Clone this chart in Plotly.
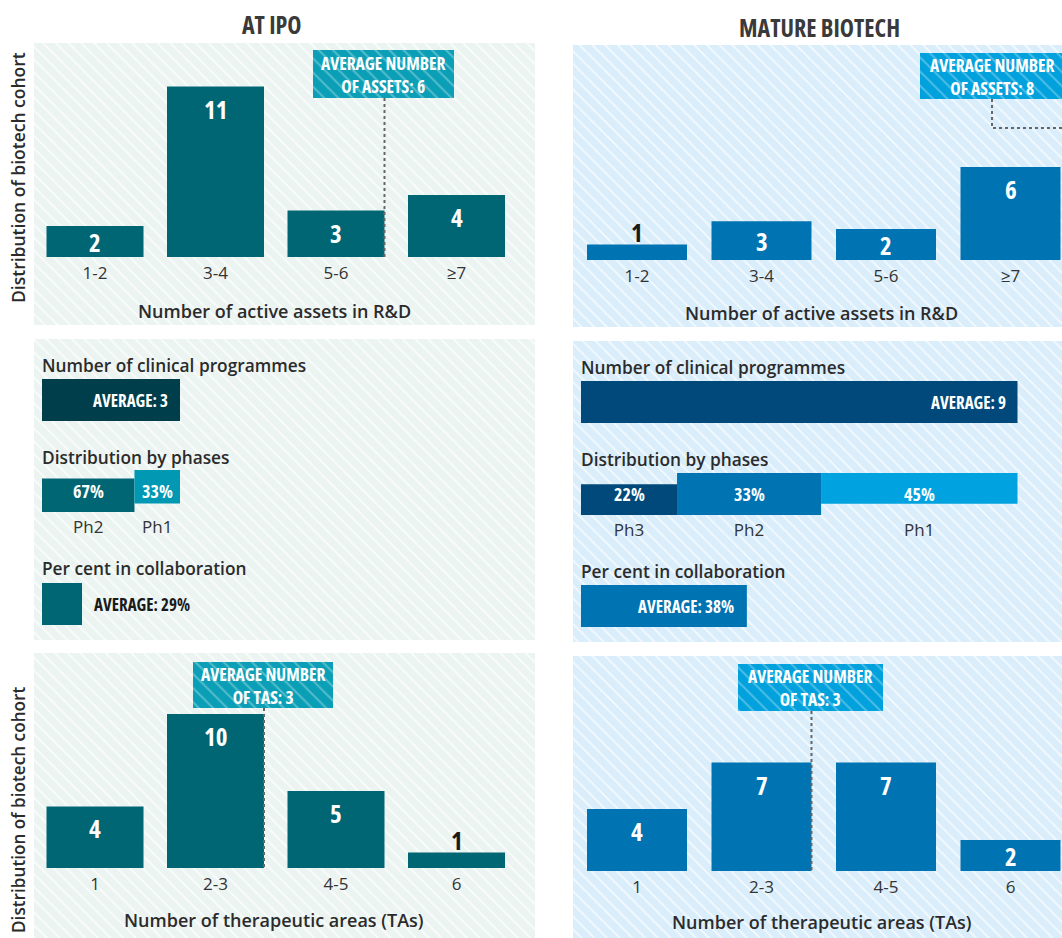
import plotly.graph_objects as go

W, H = 1062, 938

# ---------------- data ----------------
asset_cats = ["1-2", "3-4", "5-6", "≥7"]
assets_ipo = [2, 11, 3, 4]
assets_ipo_labels = ["2", "11", "3", "4"]
assets_mature = [1, 2.5, 2, 6]
assets_mature_labels = ["1", "3", "2", "6"]

ta_cats = ["1", "2-3", "4-5", "6"]
ta_ipo = [4, 10, 5, 1]
ta_ipo_labels = ["4", "10", "5", "1"]
ta_mature = [4, 7, 7, 2]
ta_mature_labels = ["4", "7", "7", "2"]

avg_assets_ipo = 6
avg_assets_mature = 8
avg_tas_ipo = 3
avg_tas_mature = 3

programmes_ipo = 3
programmes_mature = 9
phases_ipo = ["Ph2", "Ph1"]
phase_pct_ipo = [67, 33]
phases_mature = ["Ph3", "Ph2", "Ph1"]
phase_pct_mature = [22, 33, 45]
collab_ipo = 29
collab_mature = 38

# ---------------- style ----------------
NARROW = "Open Sans"
BODY = "Open Sans, Noto Sans, sans-serif"
TXT = "#2b2b2b"

L_BG, R_BG = "#ecf4f2", "#d9edfb"
L_BAR, L_DARK, L_LIGHT, L_CALL = "#006674", "#003e4b", "#0098b3", "#0a9fb6"
R_BAR, R_DARK, R_LIGHT, R_CALL = "#0073b2", "#00497a", "#00a3df", "#00a1dc"

fig = go.Figure()
layout = dict(
    width=W, height=H, margin=dict(l=0, r=0, t=0, b=0),
    paper_bgcolor="white", plot_bgcolor="rgba(0,0,0,0)",
    showlegend=False, annotations=[], shapes=[],
)

def fx(p):
    return p / W

def fy(p):
    return 1 - p / H

# base pixel axis (x, y)
layout["xaxis"] = dict(domain=[0, 1], range=[0, W], visible=False, fixedrange=True)
layout["yaxis"] = dict(domain=[0, 1], range=[H, 0], visible=False, fixedrange=True)

def rect(x0, y0, x1, y1, color, fg="white", fgop=0.7, size=9, sol=0.2):
    fig.add_trace(go.Scatter(
        x=[x0, x1, x1, x0, x0], y=[y0, y0, y1, y1, y0], mode="lines",
        line=dict(width=0), fill="toself", fillcolor=color,
        fillpattern=dict(shape="\\", bgcolor=color, fgcolor=fg, fgopacity=fgop,
                         size=size, solidity=sol),
        hoverinfo="skip", xaxis="x", yaxis="y"))

# panel backgrounds
rect(34, 43, 535, 325, L_BG)
rect(573, 45, W, 327, R_BG)
rect(34, 339, 535, 640, L_BG)
rect(573, 341, W, 642, R_BG)
rect(34, 653, 535, H, L_BG)
rect(573, 656, W, H, R_BG)

# callout boxes
rect(313, 50, 454, 98, L_CALL, fgop=0.3, size=10, sol=0.2)
rect(920, 53, W + 5, 99, R_CALL, fgop=0.3, size=10, sol=0.2)
rect(193, 662, 333, 708, L_CALL, fgop=0.3, size=10, sol=0.2)
rect(738, 664, 883, 711, R_CALL, fgop=0.3, size=10, sol=0.2)

def ann(x, y, text, size=16, color=TXT, family=BODY, weight=None, xanchor="center",
        xref="x", yref="y", angle=0, xshift=0, yshift=0):
    f = dict(family=family, size=size, color=color)
    if weight:
        f["weight"] = weight
    layout["annotations"].append(dict(
        x=x, y=y, xref=xref, yref=yref, text=text, showarrow=False, font=f,
        xanchor=xanchor, yanchor="middle", textangle=angle, xshift=xshift, yshift=yshift))

def cond(text):
    return f'<span style="font-stretch:75%">{text}</span>'

def bold(x, y, text, size=17, color="white", **kw):
    ann(x, y, cond(text), size=size, color=color, family=NARROW, weight=700, **kw)

# ---------------- vertical bar panels ----------------
def bar_panel(n, cats, vals, labels, color, cx0, step, xend, base_px, top_px, ppu, bw):
    xa, ya = f"x{n}", f"y{n}"
    x_lo = -0.5
    dom0 = cx0 - step / 2
    x_hi = x_lo + (xend - dom0) / step
    layout[f"xaxis{n}"] = dict(
        domain=[fx(dom0), fx(xend)], range=[x_lo, x_hi], anchor=ya,
        tickvals=list(range(len(cats))), ticktext=cats, ticks="", showgrid=False,
        zeroline=False, showline=False, ticklabelstandoff=4,
        tickfont=dict(family=BODY, size=17, color="#333"), fixedrange=True)
    layout[f"yaxis{n}"] = dict(
        domain=[fy(base_px), fy(top_px)], range=[0, (base_px - top_px) / ppu],
        anchor=xa, visible=False, fixedrange=True)
    fig.add_trace(go.Bar(x=list(range(len(cats))), y=vals, width=bw,
                         marker=dict(color=color, line=dict(width=0)),
                         xaxis=xa, yaxis=ya, hoverinfo="skip"))
    for i, (v, t) in enumerate(zip(vals, labels)):
        hpx = v * ppu
        if hpx < 20:
            bold(i, v, t, size=25, color="#1a1a1a", xref=xa, yref=ya, yshift=13)
        else:
            bold(i, v, t, size=25, xref=xa, yref=ya, yshift=-min(22, hpx / 2))
    return xa, ya

xa2, ya2 = bar_panel(2, asset_cats, assets_ipo, assets_ipo_labels, L_BAR,
                     95, 120.5, 516.75, 257, 43, 15.5, 0.805)
xa3, ya3 = bar_panel(3, asset_cats, assets_mature, assets_mature_labels, R_BAR,
                     637, 124.5, W, 260, 45, 15.5, 0.803)
xa4, ya4 = bar_panel(4, ta_cats, ta_ipo, ta_ipo_labels, L_BAR,
                     95, 120.5, 516.75, 868, 654, 15.4, 0.805)
xa5, ya5 = bar_panel(5, ta_cats, ta_mature, ta_mature_labels, R_BAR,
                     637, 124.5, W, 871, 656, 15.5, 0.803)

DOT = dict(color="#666666", width=2, dash="dot")
# dotted leader lines (at right edge of the bar group containing the average)
layout["shapes"].append(dict(type="line", xref=xa2, yref="y", x0=2.4025, x1=2.4025,
                             y0=98, y1=257, line=DOT, layer="above"))
layout["shapes"].append(dict(type="line", xref=xa4, yref="y", x0=1.4025, x1=1.4025,
                             y0=708, y1=868, line=DOT, layer="above"))
layout["shapes"].append(dict(type="line", xref=xa5, yref="y", x0=1.4015, x1=1.4015,
                             y0=711, y1=871, line=DOT, layer="above"))
layout["shapes"].append(dict(type="path", xref="x", yref="y",
                             path=f"M992,99 L992,128 L{W},128", line=DOT, layer="above"))

# callout texts
def callout(cx, cy, l1, l2):
    bold(cx, cy, f"{l1}<br>{l2}", size=17.5)

callout(383, 74, "AVERAGE NUMBER", f"OF ASSETS: {avg_assets_ipo}")
callout(992, 76, "AVERAGE NUMBER", f"OF ASSETS: {avg_assets_mature}")
callout(263, 685, "AVERAGE NUMBER", f"OF TAS: {avg_tas_ipo}")
callout(810, 687, "AVERAGE NUMBER", f"OF TAS: {avg_tas_mature}")

# ---------------- middle horizontal bar panels ----------------
def hrow(n, dom_px, rng, top_px, bot_px, ticks=None):
    xa, ya = f"x{n}", f"y{n}"
    xd = dict(domain=[fx(dom_px[0]), fx(dom_px[1])], range=rng, anchor=ya,
              showgrid=False, zeroline=False, showline=False, fixedrange=True)
    if ticks:
        xd.update(tickvals=ticks[0], ticktext=ticks[1], ticks="", ticklabelstandoff=3,
                  tickfont=dict(family=BODY, size=17, color="#333"))
    else:
        xd["visible"] = False
    layout[f"xaxis{n}"] = xd
    layout[f"yaxis{n}"] = dict(domain=[fy(bot_px), fy(top_px)], range=[-0.5, 0.5],
                               anchor=xa, visible=False, fixedrange=True)
    return xa, ya

def middle(n0, x0px, ppu, programmes, phases, pcts, collab, dark, seg_colors, collab_color,
           rows, collab_inside):
    rng = [0, (W - x0px) / ppu]
    dom = [x0px, W]
    # row 1: number of programmes
    xa, ya = hrow(n0, dom, rng, *rows[0])
    fig.add_trace(go.Bar(x=[programmes], y=[0], orientation="h", width=1,
                         marker=dict(color=dark, line=dict(width=0)),
                         xaxis=xa, yaxis=ya, hoverinfo="skip"))
    bold(programmes, 0, f"AVERAGE: {programmes}", xanchor="right", xref=xa, yref=ya,
         xshift=-10)
    # row 2: phases
    widths = [p / 100 * programmes for p in pcts]
    starts = [sum(widths[:i]) for i in range(len(widths))]
    centers = [s + w / 2 for s, w in zip(starts, widths)]
    xa, ya = hrow(n0 + 1, dom, rng, *rows[1], ticks=(centers, phases))
    for s, w, c, p in zip(starts, widths, seg_colors, pcts):
        fig.add_trace(go.Bar(x=[w], base=[s], y=[0], orientation="h", width=1,
                             marker=dict(color=c, line=dict(width=0)),
                             xaxis=xa, yaxis=ya, hoverinfo="skip"))
        bold(s + w / 2, 0, f"{p}%", size=18, xref=xa, yref=ya)
    # row 3: collaboration
    xa, ya = hrow(n0 + 2, dom, rng, *rows[2])
    cw = collab / 100 * programmes
    fig.add_trace(go.Bar(x=[cw], y=[0], orientation="h", width=1,
                         marker=dict(color=collab_color, line=dict(width=0)),
                         xaxis=xa, yaxis=ya, hoverinfo="skip"))
    if collab_inside:
        bold(cw, 0, f"AVERAGE: {collab}%", xanchor="right", xref=xa, yref=ya, xshift=-11)
    else:
        bold(cw, 0, f"AVERAGE: {collab}%", color="#1a1a1a", xanchor="left",
             xref=xa, yref=ya, xshift=10)

middle(6, 42, 46.0, programmes_ipo, phases_ipo, phase_pct_ipo, collab_ipo,
       L_DARK, [L_BAR, L_LIGHT], L_BAR,
       [(379, 421), (470, 512), (583, 625)], collab_inside=False)
middle(9, 581, 48.5, programmes_mature, phases_mature, phase_pct_mature, collab_mature,
       R_DARK, [R_DARK, R_BAR, R_LIGHT], R_BAR,
       [(381, 423), (473, 515), (585, 627)], collab_inside=True)

# row headings
for x, ys in [(40, (365, 457, 568)), (579, (367, 459, 571))]:
    for y, t in zip(ys, ["Number of clinical programmes", "Distribution by phases",
                         "Per cent in collaboration"]):
        ann(x, y, t, size=17.3, color=TXT, weight=600, xanchor="left")

# ---------------- titles ----------------
bold(272, 24, "AT IPO", size=24, color="#3a3a3a")
bold(819, 27, "MATURE BIOTECH", size=24, color="#3a3a3a")

ann(274, 311, "Number of active assets in R&D", size=18, weight=600)
ann(821, 313, "Number of active assets in R&D", size=18, weight=600)
ann(274, 920, "Number of therapeutic areas (TAs)", size=18, weight=600)
ann(822, 922, "Number of therapeutic areas (TAs)", size=18, weight=600)

ann(18, 178, "Distribution of biotech cohort", size=17.5, weight=600, angle=-90)
ann(18, 810, "Distribution of biotech cohort", size=17.2, weight=600, angle=-90)

fig.update_layout(**layout)
fig.write_html("out.html", config={"displayModeBar": False},
               post_script="document.body.style.margin='0';"
                           "document.body.style.overflow='hidden';")
